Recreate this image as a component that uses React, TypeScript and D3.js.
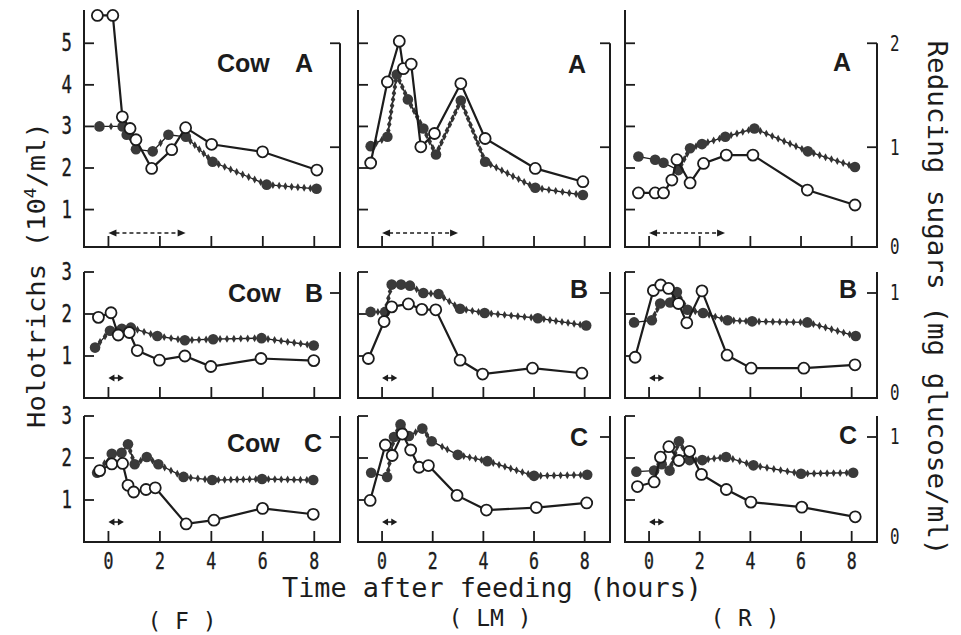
import React from "react";
import * as d3 from "d3";

// ---- categories & tick labels ----
const timeTicks = [0, 2, 4, 6, 8];
const dietLabels = ["( F )", "( LM )", "( R )"];
const cowNames = ["A", "B", "C"];
const holoTicksTop = [1, 2, 3, 4, 5];
const holoTicksLow = [1, 2, 3];
const sugarTicksTop = [0, 1, 2];
const sugarTicksLow = [0, 1];
const feedingEnd = [3, 0.6, 0.6]; // hours, cows A, B, C

// ---- Holotrichs (10^4/ml), open circles: [hours, value] ----
const holo_F_A = [[-0.43, 5.67], [0.17, 5.67], [0.54, 3.23], [0.84, 2.95], [1.07, 2.68], [1.68, 1.99], [2.46, 2.44], [3.0, 2.97], [4.01, 2.57], [5.99, 2.39], [8.1, 1.95]];
const holo_LM_A = [[-0.45, 2.12], [0.21, 4.07], [0.68, 5.05], [0.84, 4.39], [1.15, 4.5], [1.53, 2.51], [2.07, 2.83], [3.11, 4.03], [4.07, 2.71], [6.05, 1.99], [7.93, 1.67]];
const holo_R_A = [[-0.42, 1.4], [0.24, 1.4], [0.57, 1.4], [0.9, 1.71], [1.1, 2.2], [1.62, 1.64], [2.15, 2.11], [3.05, 2.31], [4.1, 2.31], [6.25, 1.47], [8.13, 1.11]];
const holo_F_B = [[-0.39, 1.92], [0.1, 2.03], [0.38, 1.5], [0.81, 1.56], [1.12, 1.13], [1.98, 0.9], [2.97, 1.0], [3.98, 0.75], [5.93, 0.94], [7.98, 0.89]];
const holo_LM_B = [[-0.54, 0.94], [0.08, 1.82], [0.38, 2.17], [1.04, 2.24], [1.57, 2.11], [2.12, 2.1], [3.08, 0.9], [3.97, 0.57], [5.94, 0.71], [7.89, 0.59]];
const holo_R_B = [[-0.55, 0.97], [0.17, 2.56], [0.46, 2.69], [0.77, 2.61], [1.16, 2.25], [1.49, 1.79], [2.09, 2.55], [3.08, 1.02], [4.03, 0.71], [6.11, 0.71], [8.13, 0.79]];
const holo_F_C = [[-0.34, 1.7], [0.13, 1.86], [0.55, 1.87], [0.76, 1.35], [0.98, 1.19], [1.46, 1.25], [1.82, 1.29], [3.02, 0.43], [4.1, 0.52], [5.99, 0.8], [7.96, 0.66]];
const holo_LM_C = [[-0.47, 0.99], [0.13, 2.31], [0.4, 2.06], [0.8, 2.57], [1.13, 2.19], [1.46, 1.78], [1.83, 1.82], [2.96, 1.11], [4.12, 0.76], [6.09, 0.82], [8.08, 0.93]];
const holo_R_C = [[-0.46, 1.32], [0.2, 1.43], [0.45, 2.02], [0.78, 2.27], [1.18, 1.94], [1.6, 2.16], [2.07, 1.61], [3.05, 1.25], [4.02, 0.95], [6.03, 0.83], [8.14, 0.6]];

// ---- Reducing sugars (mg glucose/ml), filled circles: [hours, value] ----
const sugar_F_A = [[-0.35, 1.2], [0.55, 1.2], [0.71, 1.12], [1.07, 0.98], [1.72, 0.96], [2.33, 1.12], [3.01, 1.1], [4.05, 0.86], [6.15, 0.64], [8.09, 0.6]];
const sugar_LM_A = [[-0.45, 1.01], [0.21, 1.1], [0.58, 1.7], [1.02, 1.46], [1.63, 1.18], [2.13, 0.93], [3.11, 1.45], [4.07, 0.86], [6.05, 0.61], [7.93, 0.54]];
const sugar_R_A = [[-0.42, 0.91], [0.24, 0.88], [0.57, 0.85], [1.16, 0.78], [1.62, 0.99], [2.09, 1.03], [3.01, 1.1], [4.16, 1.18], [6.27, 0.96], [8.13, 0.81]];
const sugar_F_B = [[-0.52, 0.48], [0.06, 0.64], [0.52, 0.66], [0.87, 0.67], [1.9, 0.59], [2.97, 0.55], [4.07, 0.56], [5.95, 0.57], [7.98, 0.5]];
const sugar_LM_B = [[-0.45, 0.82], [0.12, 0.82], [0.38, 1.08], [0.75, 1.08], [1.1, 1.07], [1.63, 1.0], [2.23, 0.99], [3.08, 0.85], [4.05, 0.81], [6.15, 0.76], [8.06, 0.69]];
const sugar_R_B = [[-0.59, 0.72], [0.11, 0.74], [0.44, 0.9], [0.83, 0.91], [1.1, 1.01], [1.52, 0.84], [2.13, 0.81], [3.1, 0.74], [4.07, 0.73], [6.25, 0.72], [8.16, 0.59]];
const sugar_F_C = [[-0.44, 0.66], [0.13, 0.84], [0.51, 0.85], [0.76, 0.93], [1.02, 0.74], [1.49, 0.81], [1.94, 0.74], [2.92, 0.62], [4.03, 0.59], [5.97, 0.6], [7.96, 0.59]];
const sugar_LM_C = [[-0.43, 0.66], [0.2, 0.62], [0.47, 1.0], [0.73, 1.12], [1.06, 1.01], [1.59, 1.08], [1.96, 0.96], [2.99, 0.83], [4.16, 0.77], [6.0, 0.63], [8.1, 0.64]];
const sugar_R_C = [[-0.5, 0.67], [0.2, 0.68], [0.5, 0.74], [0.81, 0.68], [1.18, 0.96], [1.6, 0.78], [2.1, 0.78], [3.04, 0.81], [4.12, 0.73], [6.0, 0.65], [8.06, 0.66]];

const holoData = [
  [holo_F_A, holo_LM_A, holo_R_A],
  [holo_F_B, holo_LM_B, holo_R_B],
  [holo_F_C, holo_LM_C, holo_R_C],
];
const sugarData = [
  [sugar_F_A, sugar_LM_A, sugar_R_A],
  [sugar_F_B, sugar_LM_B, sugar_R_B],
  [sugar_F_C, sugar_LM_C, sugar_R_C],
];

// ---- layout ----
const W = 961;
const H = 635;
const TIME_DOMAIN = [-0.95, 9.0];
const COL_X = [[84, 340], [358, 610], [625, 877]];
const ROW_Y = [[247, 10], [398, 272], [542, 416]];
const ROW_HOLO_DOMAIN = [[0.1, 5.8], [0, 3], [0, 3]];
const SUGAR_PER_HOLO = 0.4;
const INK = "#1c1c1c";
const MONO = "'DejaVu Sans Mono', monospace";
const SANS = "'Liberation Sans', Arial, sans-serif";
const ARROW_Y = [233, 378, 522];
// panel label positions: [baseline, letterEndX]
const LABEL_POS = [
  [[72, 313], [73, 586], [71, 851]],
  [[302, 323], [298, 588], [298, 857]],
  [[452, 322], [446, 588], [444, 857]],
];
const COW_WORD_X = [217, 228, 227];

function beadPoints(pts: number[][], spacing: number) {
  const out: number[][] = [];
  for (let i = 0; i < pts.length - 1; i++) {
    const [x0, y0] = pts[i];
    const [x1, y1] = pts[i + 1];
    const len = Math.hypot(x1 - x0, y1 - y0);
    const n = Math.max(1, Math.round(len / spacing));
    for (let k = 1; k < n; k++) {
      const f = k / n;
      const d = f * len;
      if (d < 6 || len - d < 6) continue;
      out.push([x0 + (x1 - x0) * f, y0 + (y1 - y0) * f]);
    }
  }
  return out;
}

function Arrow({ x0, x1, y, dashed }: { x0: number; x1: number; y: number; dashed: boolean }) {
  const hl = dashed ? 8 : 6;
  const hw = 3.5;
  return (
    <g>
      <line x1={x0 + hl - 1} x2={x1 - hl + 1} y1={y} y2={y} stroke={INK} strokeWidth={1.6}
        strokeDasharray={dashed ? "4,3" : undefined} />
      <path d={`M${x0},${y}L${x0 + hl},${y - hw}L${x0 + hl},${y + hw}Z`} fill={INK} />
      <path d={`M${x1},${y}L${x1 - hl},${y - hw}L${x1 - hl},${y + hw}Z`} fill={INK} />
    </g>
  );
}

function Panel({ r, c }: { r: number; c: number }) {
  const [xl, xr] = COL_X[c];
  const [yb, yt] = ROW_Y[r];
  const hd = ROW_HOLO_DOMAIN[r];
  const x = d3.scaleLinear().domain(TIME_DOMAIN).range([xl, xr]);
  const y = d3.scaleLinear().domain(hd).range([yb, yt]);
  const ys = d3.scaleLinear().domain(hd.map((v) => v * SUGAR_PER_HOLO)).range([yb, yt]);
  const holo = holoData[r][c];
  const sugar = sugarData[r][c];
  const holoLine = d3.line<number[]>().x((d) => x(d[0])).y((d) => y(d[1]));
  const sugarLine = d3.line<number[]>().x((d) => x(d[0])).y((d) => ys(d[1]));
  const sugarPx = sugar.map((d) => [x(d[0]), ys(d[1])]);
  const beads = beadPoints(sugarPx, 6.5);
  const diamond = d3.symbol().type(d3.symbolDiamond).size(18)() as string;
  const holoTicks = r === 0 ? holoTicksTop : holoTicksLow;
  const sTicks = r === 0 ? sugarTicksTop : sugarTicksLow;
  const rightTop = r === 0 ? ys(2) : yt;
  const [lb, lx] = LABEL_POS[r][c];
  return (
    <g>
      {/* frame */}
      <path d={`M${xl},${yt}V${yb}H${xr}V${rightTop}`} fill="none" stroke={INK} strokeWidth={2} />
      {holoTicks.map((t) => (
        <line key={"l" + t} x1={xl} x2={xl + 10} y1={y(t)} y2={y(t)} stroke={INK} strokeWidth={1.8} />
      ))}
      {sTicks.filter((t) => t > 0).map((t) => (
        <line key={"r" + t} x1={xr} x2={xr - 10} y1={ys(t)} y2={ys(t)} stroke={INK} strokeWidth={1.8} />
      ))}
      {timeTicks.map((t) => (
        <line key={"b" + t} x1={x(t)} x2={x(t)} y1={yb} y2={yb - 11} stroke={INK} strokeWidth={1.8} />
      ))}
      {/* left tick labels */}
      {c === 0 &&
        holoTicks.map((t) => (
          <text key={"lt" + t} transform={`translate(${xl - 12},${y(t)}) scale(0.72,1)`} textAnchor="end"
            dominantBaseline="central" fontFamily={MONO} fontSize={24} fill={INK} stroke={INK} strokeWidth={0.4}>
            {t}
          </text>
        ))}
      {/* right tick labels */}
      {c === 2 &&
        sTicks.map((t) => (
          <text key={"rt" + t} transform={`translate(${xr + 13},${ys(t) - (t === 0 ? 5 : 0)}) scale(0.72,1)`}
            textAnchor="start" dominantBaseline="central" fontFamily={MONO} fontSize={22} fill={INK}>
            {t}
          </text>
        ))}
      {/* bottom tick labels */}
      {r === 2 &&
        timeTicks.map((t) => (
          <text key={"bt" + t} transform={`translate(${x(t)},${yb + 27}) scale(0.72,1)`} textAnchor="middle"
            fontFamily={MONO} fontSize={23} fill={INK} stroke={INK} strokeWidth={0.4}>
            {t}
          </text>
        ))}
      {/* feeding arrow */}
      <Arrow x0={x(0)} x1={x(feedingEnd[r])} y={ARROW_Y[r]} dashed={r === 0} />
      {/* reducing sugars: beaded line + filled circles */}
      <path d={sugarLine(sugar) as string} fill="none" stroke={INK} strokeWidth={1.3} />
      {beads.map((p, i) => (
        <path key={"bd" + i} d={diamond} transform={`translate(${p[0]},${p[1]})`} fill="#333" />
      ))}
      {sugar.map((d, i) => (
        <circle key={"s" + i} cx={x(d[0])} cy={ys(d[1])} r={5.3} fill="#3a3a3a" />
      ))}
      {/* holotrichs: solid line + open circles */}
      <path d={holoLine(holo) as string} fill="none" stroke={INK} strokeWidth={2.2} />
      {holo.map((d, i) => (
        <circle key={"h" + i} cx={x(d[0])} cy={y(d[1])} r={5.5} fill="#fff" stroke={INK} strokeWidth={1.8} />
      ))}
      {/* panel label */}
      {c === 0 && (
        <text x={COW_WORD_X[r]} y={lb} fontFamily={SANS} fontWeight="bold" fontSize={25} fill={INK}>
          Cow
        </text>
      )}
      <text x={lx} y={lb} textAnchor="end" fontFamily={SANS} fontWeight="bold" fontSize={25} fill={INK}>
        {cowNames[r]}
      </text>
    </g>
  );
}

export default function App() {
  const rows = [0, 1, 2];
  const cols = [0, 1, 2];
  const dietX = [182, 490, 745];
  const dietY = [629, 626, 626];
  return (
    <svg width={W} height={H} viewBox={`0 0 ${W} ${H}`}
      style={{ position: "absolute", left: 0, top: 0, background: "#fff" }}>
      <rect width={W} height={H} fill="#fff" />
      {rows.map((r) => cols.map((c) => <Panel key={r + "-" + c} r={r} c={c} />))}
      {/* x title */}
      <text x={492} y={597} textAnchor="middle" fontFamily={MONO} fontSize={26} fill={INK}
        textLength={420} lengthAdjust="spacingAndGlyphs">
        Time after feeding (hours)
      </text>
      {dietLabels.map((d, i) => (
        <text key={d} x={dietX[i]} y={dietY[i]} textAnchor="middle" fontFamily={MONO} fontSize={23} fill={INK}>
          {d}
        </text>
      ))}
      {/* left title */}
      <text transform="translate(45,275) rotate(-90)" textAnchor="middle" fontFamily={MONO} fontSize={25}
        fill={INK} textLength={306} lengthAdjust="spacingAndGlyphs">
        Holotrichs (10<tspan fontSize={16} dy={-9}>4</tspan><tspan dy={9}>/ml)</tspan>
      </text>
      {/* right title */}
      <text transform="translate(928,298) rotate(90)" textAnchor="middle" fontFamily={MONO} fontSize={26}
        fill={INK} textLength={515} lengthAdjust="spacingAndGlyphs">
        Reducing sugars (mg glucose/ml)
      </text>
    </svg>
  );
}
